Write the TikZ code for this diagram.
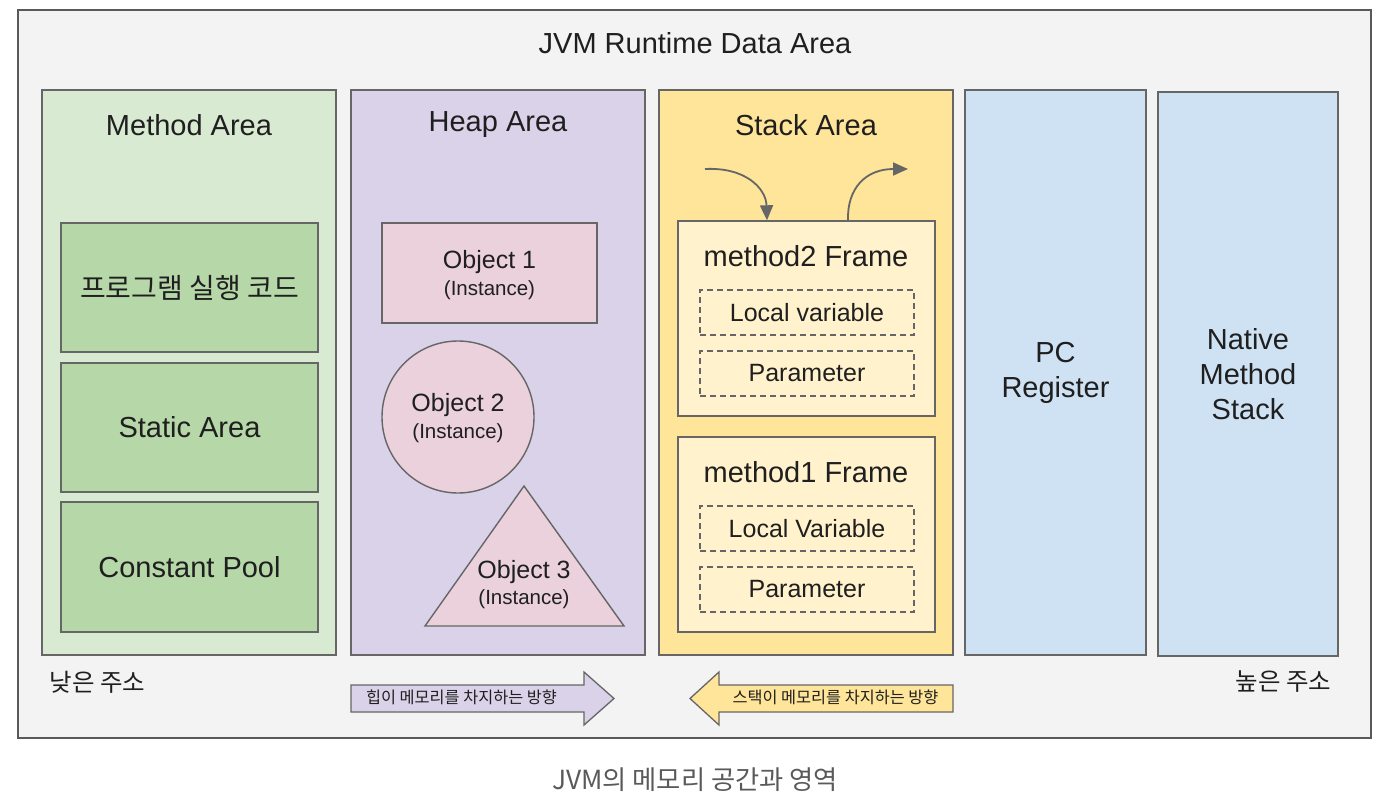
\documentclass[tikz,border=0pt]{standalone}
\usepackage{fontspec}
\setmainfont{Liberation Sans}
\newfontfamily\kr{Noto Sans CJK KR}
\usetikzlibrary{arrows.meta}
\definecolor{bgc}{HTML}{F3F3F3}
\definecolor{lnc}{HTML}{666666}
\definecolor{grl}{HTML}{D9EAD3}
\definecolor{grd}{HTML}{B6D7A8}
\definecolor{pul}{HTML}{D9D2E9}
\definecolor{pnk}{HTML}{EAD1DC}
\definecolor{yel}{HTML}{FFE599}
\definecolor{crm}{HTML}{FFF2CC}
\definecolor{blu}{HTML}{CFE2F3}
\definecolor{txc}{HTML}{1F1F1F}
\definecolor{capc}{HTML}{5A5A5A}
\tikzset{
  box/.style={draw=lnc, line width=1.4pt, rectangle, inner sep=0pt},
  big/.style={font=\fontsize{29}{35}\selectfont, text=txc, align=center},
  mid/.style={font=\fontsize{25}{30}\selectfont, text=txc, align=center},
  obj/.style={font=\fontsize{25}{28}\selectfont, text=txc, inner sep=0pt},
  inst/.style={font=\fontsize{20.5}{24}\selectfont, text=txc, inner sep=0pt},
  dbox/.style={draw=lnc, line width=1.2pt, dash pattern=on 6pt off 4pt, rectangle, inner sep=0pt, minimum width=214, minimum height=45},
  krt/.style={font=\kr\fontsize{24.5}{28}\selectfont, text=txc},
  dirt/.style={font=\kr\fontsize{16.3}{18}\selectfont, text=txc},
  flow/.style={draw=lnc, line width=1.8pt, -{Triangle[length=15pt,width=13pt]}},
}
\begin{document}
\begin{tikzpicture}[x=1pt,y=-1pt]
\useasboundingbox (0,0) rectangle (1390,808);
\fill[white] (0,0) rectangle (1390,808);
% outer frame
\node[box, draw=black!65, fill=bgc, minimum width=1353, minimum height=728] (frame) at (694.5,374) {};
\node[big] (title) at (695,43) {JVM Runtime Data Area};
% Method area
\node[box, fill=grl, minimum width=294, minimum height=565] (method) at (189,372.5) {};
\node[big] (methodt) at (189,125) {Method Area};
\node[box, fill=grd, minimum width=257, minimum height=129] (code) at (189.5,287.5) {};
\node[krt, font=\kr\fontsize{28}{32}\selectfont] (codet) at (189.5,287.5) {프로그램 실행 코드};
\node[box, fill=grd, minimum width=257, minimum height=129, big] (static) at (189.5,427.5) {Static Area};
\node[box, fill=grd, minimum width=257, minimum height=130, big] (pool) at (189.5,567) {Constant Pool};
% Heap area
\node[box, fill=pul, minimum width=294, minimum height=565] (heap) at (498,372.5) {};
\node[big] (heapt) at (498,125) {Heap Area};
\node[box, fill=pnk, minimum width=215, minimum height=100] (o1) at (489.5,273) {};
\node[obj] (o1a) at (489.5,262) {Object 1};
\node[inst] (o1b) at (489.5,290) {(Instance)};
\node[draw=lnc, line width=1.4pt, fill=pnk, circle, minimum size=152, inner sep=0pt] (o2) at (458,417) {};
\node[obj] (o2a) at (458,405) {Object 2};
\node[inst] (o2b) at (458,433) {(Instance)};
\draw[draw=lnc, line width=1.4pt, fill=pnk] (524,486) -- (624,626) -- (425,626) -- cycle;
\node[obj] (o3a) at (524,572) {Object 3};
\node[inst] (o3b) at (524,599) {(Instance)};
% Stack area
\node[box, fill=yel, minimum width=294, minimum height=565] (stack) at (806,372.5) {};
\node[big] (stackt) at (806,125) {Stack Area};
\node[box, fill=crm, minimum width=257, minimum height=195] (m2) at (806.5,318.5) {};
\node[big] (m2t) at (806,256) {method2 Frame};
\node[dbox, mid] (m2l) at (807,312.5) {Local variable};
\node[dbox, mid] (m2p) at (807,373.5) {Parameter};
\node[box, fill=crm, minimum width=257, minimum height=195] (m1) at (806.5,534.5) {};
\node[big] (m1t) at (806,472) {method1 Frame};
\node[dbox, mid] (m1l) at (807,528.5) {Local Variable};
\node[dbox, mid] (m1p) at (807,589.5) {Parameter};
\coordinate (inS) at (705,169);
\coordinate (outE) at (908,169);
\draw[flow] (inS) .. controls (745,167) and (766,188) .. (m2.north -| 767,0);
\draw[flow] (m2.north -| 848,0) .. controls (847,188) and (866,169) .. (outE);
% PC register & native
\node[box, fill=blu, minimum width=181, minimum height=565, big] (pc) at (1055.5,372.5) {PC\\Register};
\node[box, fill=blu, minimum width=180, minimum height=564, big] (nat) at (1248,374) {Native\\Method\\Stack};
% addresses
\node[krt, anchor=west] (low) at (46,682) {낮은 주소};
\node[krt, anchor=east] (high) at (1335,682) {높은 주소};
% direction arrows
\draw[draw=lnc, line width=1.3pt, fill=pul] (351,685) -- (584,685) -- (584,672) -- (614,698.5) -- (584,725) -- (584,712) -- (351,712) -- cycle;
\node[dirt] (heapdir) at (461.5,697) {힙이 메모리를 차지하는 방향};
\draw[draw=lnc, line width=1.3pt, fill=yel] (953,685) -- (719,685) -- (719,672) -- (690,698.5) -- (719,725) -- (719,712) -- (953,712) -- cycle;
\node[dirt] (stackdir) at (835.5,697) {스택이 메모리를 차지하는 방향};
% caption
\node[font=\kr\fontsize{26.3}{30}\selectfont, text=capc] (caption) at (695,780) {JVM의 메모리 공간과 영역};
\end{tikzpicture}
\end{document}
